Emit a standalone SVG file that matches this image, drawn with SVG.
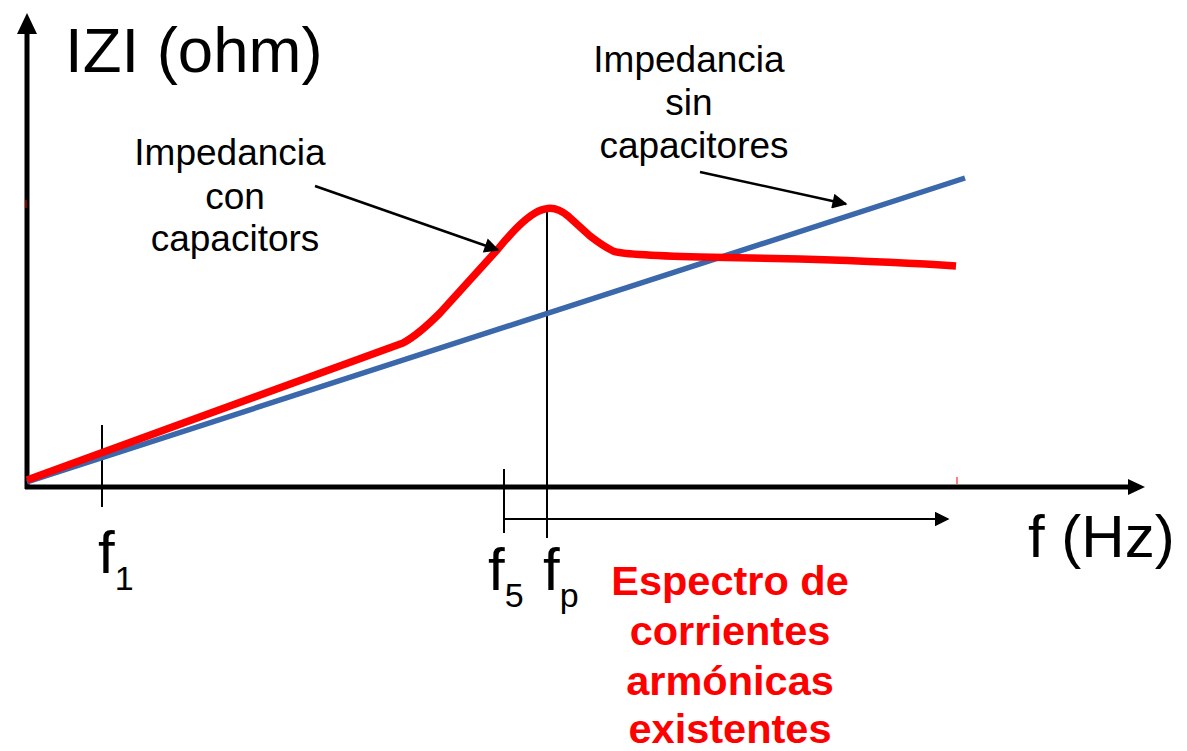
<svg xmlns="http://www.w3.org/2000/svg" width="1187" height="751" viewBox="0 0 1187 751">
<style>
.t{font-family:"Liberation Sans",Arial,sans-serif;fill:#000}
.lbl{font-size:37px}
.red{font-family:"Liberation Sans",Arial,sans-serif;font-weight:bold;font-size:41.5px;fill:#ff0000}
.ax{stroke:#000;stroke-width:5;fill:none}
.thin{stroke:#000;stroke-width:2;fill:none}
.ann{stroke:#000;stroke-width:2.5;fill:none}
</style>
<defs>
<marker id="ah" viewBox="0 0 10 10" refX="9" refY="5" markerWidth="6.5" markerHeight="6" markerUnits="strokeWidth" orient="auto">
<path d="M0,0 L10,5 L0,10 Z" fill="#000"/>
</marker>
<marker id="ah2" viewBox="0 0 10 10" refX="9" refY="5" markerWidth="7.5" markerHeight="7.5" markerUnits="strokeWidth" orient="auto">
<path d="M0,0 L10,5 L0,10 Z" fill="#000"/>
</marker>
</defs>
<rect width="1187" height="751" fill="#fff"/>
<g id="axes">
<line class="ax" x1="27" y1="489" x2="27" y2="32"/>
<polygon points="27,13 17,34 37,34" fill="#000"/>
<line class="ax" x1="25" y1="487" x2="1130" y2="487"/>
<polygon points="1145,487 1128,479 1128,495" fill="#000"/>
<line x1="957" y1="477" x2="957" y2="484" stroke="#ff0000" stroke-width="1"/>
<line x1="26" y1="200" x2="26" y2="208" stroke="#ff0000" stroke-width="1"/>
</g>
<g id="ticks">
<line class="thin" x1="102" y1="425" x2="102" y2="507"/>
<line class="thin" x1="504" y1="469" x2="504" y2="533"/>
<line class="thin" x1="547" y1="208" x2="547" y2="538"/>
</g>
<g id="curves">
<line id="sin-cap" x1="27" y1="482" x2="965" y2="178" stroke="#3a68aa" stroke-width="5.5"/>
<path id="con-cap" d="M27,480 L403,343 Q418,335 440,313 L498,249 Q528,212 545,209 Q556,206 568,216 L590,236 Q603,246 613,251 Q622,255 700,257 L800,259 Q900,262 956,266" fill="none" stroke="#ff0000" stroke-width="7.5" stroke-linejoin="round"/>
</g>
<g id="connectors">
<line class="ann" x1="315" y1="186" x2="498" y2="250" marker-end="url(#ah)"/>
<line class="ann" x1="700" y1="172" x2="846" y2="204" marker-end="url(#ah)"/>
<line class="thin" x1="504" y1="519" x2="948" y2="519" marker-end="url(#ah2)"/>
</g>
<g id="label-y"><text class="t" x="65" y="72" font-size="63.5">IZI (ohm)</text></g>
<g id="label-x"><text class="t" x="1028" y="557" font-size="60">f (Hz)</text></g>
<g id="label-f1"><text class="t" x="98" y="573" font-size="60">f<tspan font-size="34" dy="17">1</tspan></text></g>
<g id="label-f5"><text class="t" x="488" y="590" font-size="60">f<tspan font-size="34" dy="17">5</tspan></text></g>
<g id="label-fp"><text class="t" x="543" y="590" font-size="60">f<tspan font-size="34" dy="17">p</tspan></text></g>
<g id="label-con" class="t lbl" text-anchor="middle">
<text x="230" y="165">Impedancia</text>
<text x="235" y="209">con</text>
<text x="235" y="251">capacitors</text>
</g>
<g id="label-sin" class="t lbl" text-anchor="middle">
<text x="689" y="72">Impedancia</text>
<text x="689" y="115">sin</text>
<text x="694" y="158">capacitores</text>
</g>
<g id="label-spectrum" class="red" text-anchor="middle">
<text x="730" y="595">Espectro de</text>
<text x="730" y="645">corrientes</text>
<text x="730" y="695">armónicas</text>
<text x="730" y="743">existentes</text>
</g>
</svg>
